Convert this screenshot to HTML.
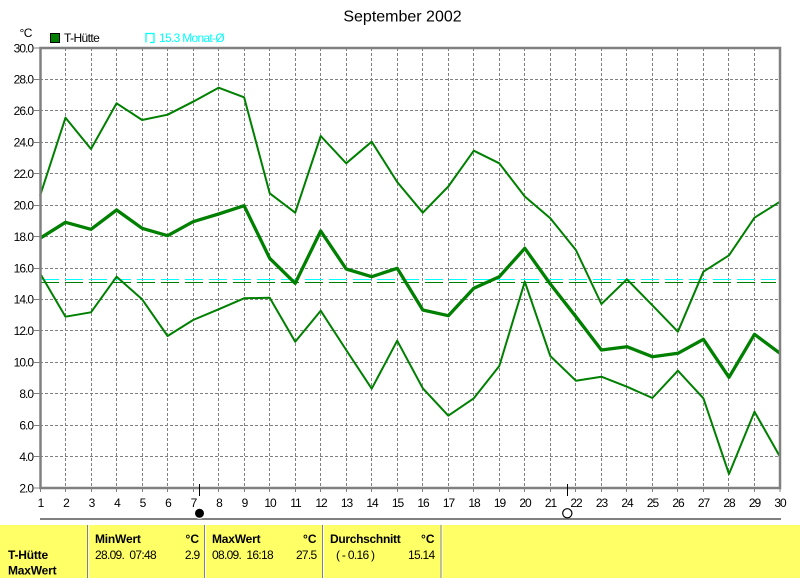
<!DOCTYPE html>
<html>
<head>
<meta charset="utf-8">
<style>
  html,body{margin:0;padding:0;background:#fff;}
  svg{display:block;}
  text{font-family:"Liberation Sans",Arial,sans-serif;}
</style>
</head>
<body>
<svg width="800" height="578" viewBox="0 0 800 578" xmlns="http://www.w3.org/2000/svg">
  <rect x="0" y="0" width="800" height="578" fill="#fff"/>

  <!-- Title -->
  <text x="402.5" y="21.5" font-size="16" text-anchor="middle" fill="#000">September 2002</text>

  <!-- unit -->
  <text x="19.5" y="37" font-size="12" fill="#000" letter-spacing="-0.5">°C</text>

  <!-- Legend -->
  <rect x="50.5" y="33.5" width="9" height="9" fill="#008000" stroke="#000" stroke-width="1"/>
  <text x="64" y="42" font-size="12" fill="#000" letter-spacing="-0.6">T-Hütte</text>
  <path d="M146,42.5 V33.5 H154 V42.5 H150" fill="none" stroke="#00FFFF" stroke-width="1.3"/>
  <text x="159" y="42" font-size="12" fill="#00FFFF" letter-spacing="-0.7">15.3 Monat-Ø</text>

  <!-- vertical dashed grid -->
  <path d="M65.5,48V488 M91.5,48V488 M116.5,48V488 M142.5,48V488 M167.5,48V488 M193.5,48V488 M218.5,48V488 M244.5,48V488 M269.5,48V488 M295.5,48V488 M320.5,48V488 M346.5,48V488 M371.5,48V488 M397.5,48V488 M422.5,48V488 M448.5,48V488 M473.5,48V488 M499.5,48V488 M524.5,48V488 M550.5,48V488 M575.5,48V488 M601.5,48V488 M626.5,48V488 M652.5,48V488 M677.5,48V488 M703.5,48V488 M728.5,48V488 M754.5,48V488"
        stroke="#808080" stroke-width="1" stroke-dasharray="3,2" fill="none"/>
  <!-- horizontal dashed grid -->
  <path d="M40,79.5H780 M40,110.5H780 M40,142.5H780 M40,173.5H780 M40,205.5H780 M40,236.5H780 M40,268.5H780 M40,299.5H780 M40,330.5H780 M40,362.5H780 M40,393.5H780 M40,425.5H780 M40,456.5H780"
        stroke="#808080" stroke-width="1" stroke-dasharray="3,2" fill="none"/>

  <!-- ticks -->
  <path d="M34,48H40 M34,79.5H40 M34,110.5H40 M34,142.5H40 M34,173.5H40 M34,205.5H40 M34,236.5H40 M34,268.5H40 M34,299.5H40 M34,330.5H40 M34,362.5H40 M34,393.5H40 M34,425.5H40 M34,456.5H40 M34,488H40"
        stroke="#808080" stroke-width="1" fill="none"/>
  <path d="M40.5,488V492 M65.5,488V492 M91.5,488V492 M116.5,488V492 M142.5,488V492 M167.5,488V492 M193.5,488V492 M218.5,488V492 M244.5,488V492 M269.5,488V492 M295.5,488V492 M320.5,488V492 M346.5,488V492 M371.5,488V492 M397.5,488V492 M422.5,488V492 M448.5,488V492 M473.5,488V492 M499.5,488V492 M524.5,488V492 M550.5,488V492 M575.5,488V492 M601.5,488V492 M626.5,488V492 M652.5,488V492 M677.5,488V492 M703.5,488V492 M728.5,488V492 M754.5,488V492 M780,488V492"
        stroke="#808080" stroke-width="1" fill="none"/>

  <!-- average dashed lines -->
  <path d="M41,279.5H776" stroke="#00FFFF" stroke-width="1" stroke-dasharray="18,6" fill="none"/>
  <path d="M41,282.5H776" stroke="#008000" stroke-width="1" stroke-dasharray="18,6" fill="none"/>

  <!-- Max series -->
  <polyline fill="none" stroke="#008000" stroke-width="2" stroke-linejoin="round"
    points="40,196 65.5,117.7 91,149 116.6,103.3 142.1,120 167.6,114.7 193.1,101.7 218.6,87.7 244.1,97.3 269.7,193.3 295.2,212.7 320.7,136 346.2,163.3 371.7,141.7 397.2,182 422.8,212.7 448.3,186.5 473.8,150.7 499.3,163.3 524.8,196.5 550.3,218.3 575.9,250 601.4,304 626.9,279.3 652.4,305.3 677.9,331.7 703.4,271.7 729,255.3 754.5,217.7 780,201.7"/>
  <!-- Mean series -->
  <polyline fill="none" stroke="#008000" stroke-width="3.3" stroke-linejoin="round"
    points="40,238.3 65.5,222.3 91,229.3 116.6,210 142.1,228.3 167.6,235.7 193.1,221.7 218.6,214 244.1,205.7 269.7,258.3 295.2,283.3 320.7,231 346.2,269 371.7,276.7 397.2,268.3 422.8,310 448.3,315.7 473.8,288.3 499.3,276.7 524.8,248.3 550.3,284 575.9,316.7 601.4,350 626.9,346.7 652.4,356.7 677.9,353.3 703.4,339.3 729,377.3 754.5,334.3 780,353.3"/>
  <!-- Min series -->
  <polyline fill="none" stroke="#008000" stroke-width="2" stroke-linejoin="round"
    points="40,273.3 65.5,316.7 91,312.3 116.6,276.7 142.1,299.3 167.6,336 193.1,320 218.6,309.3 244.1,298.3 269.7,297.7 295.2,341.7 320.7,310.7 346.2,350 371.7,388.7 397.2,340.7 422.8,388.3 448.3,415.7 473.8,398.3 499.3,366 524.8,281.7 550.3,356 575.9,380.7 601.4,376.7 626.9,386.7 652.4,398 677.9,370.7 703.4,398.3 729,474 754.5,411.7 780,456.7"/>

  <!-- frame -->
  <rect x="40.5" y="48" width="739.5" height="440" fill="none" stroke="#808080" stroke-width="2.5"/>

  <!-- Y labels -->
  <g font-size="12" fill="#000" text-anchor="end" letter-spacing="-1">
    <text x="33" y="52.3">30.0</text>
    <text x="33" y="83.7">28.0</text>
    <text x="33" y="115.2">26.0</text>
    <text x="33" y="146.6">24.0</text>
    <text x="33" y="178">22.0</text>
    <text x="33" y="209.4">20.0</text>
    <text x="33" y="240.9">18.0</text>
    <text x="33" y="272.3">16.0</text>
    <text x="33" y="303.7">14.0</text>
    <text x="33" y="335.2">12.0</text>
    <text x="33" y="366.6">10.0</text>
    <text x="33" y="398">8.0</text>
    <text x="33" y="429.4">6.0</text>
    <text x="33" y="460.9">4.0</text>
    <text x="33" y="492.3">2.0</text>
  </g>

  <!-- X labels -->
  <g font-size="12" fill="#000" text-anchor="middle" letter-spacing="-1">
    <text x="40.5" y="507">1</text>
    <text x="66" y="507">2</text>
    <text x="91.5" y="507">3</text>
    <text x="117" y="507">4</text>
    <text x="142.5" y="507">5</text>
    <text x="168" y="507">6</text>
    <text x="193.5" y="507">7</text>
    <text x="219" y="507">8</text>
    <text x="244.5" y="507">9</text>
    <text x="270" y="507">10</text>
    <text x="295.5" y="507">11</text>
    <text x="321" y="507">12</text>
    <text x="346.5" y="507">13</text>
    <text x="372" y="507">14</text>
    <text x="397.5" y="507">15</text>
    <text x="423" y="507">16</text>
    <text x="448.5" y="507">17</text>
    <text x="474" y="507">18</text>
    <text x="499.5" y="507">19</text>
    <text x="525" y="507">20</text>
    <text x="550.5" y="507">21</text>
    <text x="576" y="507">22</text>
    <text x="601.5" y="507">23</text>
    <text x="627" y="507">24</text>
    <text x="652.5" y="507">25</text>
    <text x="678" y="507">26</text>
    <text x="703.5" y="507">27</text>
    <text x="729" y="507">28</text>
    <text x="754.5" y="507">29</text>
    <text x="780" y="507">30</text>
  </g>

  <!-- moon markers -->
  <path d="M199.5,484V496 M567.5,484V496" stroke="#000" stroke-width="1"/>
  <line x1="40" y1="519" x2="781" y2="519" stroke="#808080" stroke-width="2"/>
  <circle cx="199.5" cy="513.3" r="5.5" fill="#fff"/>
  <circle cx="199.5" cy="513.3" r="4.5" fill="#000"/>
  <circle cx="567.3" cy="513.3" r="4.6" fill="#fff" stroke="#000" stroke-width="1.2"/>

  <!-- yellow table -->
  <rect x="0" y="525" width="800" height="53" fill="#FFFF66"/>
  <g stroke-width="1">
    <line x1="87.5" y1="525" x2="87.5" y2="578" stroke="#808080"/>
    <line x1="88.5" y1="525" x2="88.5" y2="578" stroke="#fff"/>
    <line x1="204.5" y1="525" x2="204.5" y2="578" stroke="#808080"/>
    <line x1="205.5" y1="525" x2="205.5" y2="578" stroke="#fff"/>
    <line x1="322.5" y1="525" x2="322.5" y2="578" stroke="#808080"/>
    <line x1="323.5" y1="525" x2="323.5" y2="578" stroke="#fff"/>
    <line x1="441" y1="525" x2="441" y2="578" stroke="#808080"/>
    <line x1="442" y1="525" x2="442" y2="578" stroke="#fff"/>
  </g>

  <g font-size="12" fill="#000">
    <text x="8" y="559" font-weight="bold" letter-spacing="-0.2">T-Hütte</text>
    <text x="8" y="574.5" font-weight="bold" letter-spacing="-0.2">MaxWert</text>

    <text x="95" y="543" font-weight="bold" letter-spacing="-0.2">MinWert</text>
    <text x="199" y="543" font-weight="bold" text-anchor="end">°C</text>
    <text x="95" y="559" letter-spacing="-0.7" style="white-space:pre">28.09.  07:48</text>
    <text x="199.5" y="559" text-anchor="end" letter-spacing="-0.7">2.9</text>

    <text x="212" y="543" font-weight="bold" letter-spacing="-0.2">MaxWert</text>
    <text x="316.5" y="543" font-weight="bold" text-anchor="end">°C</text>
    <text x="212" y="559" letter-spacing="-0.7" style="white-space:pre">08.09.  16:18</text>
    <text x="316.5" y="559" text-anchor="end" letter-spacing="-0.7">27.5</text>

    <text x="330" y="543" font-weight="bold" letter-spacing="-0.3">Durchschnitt</text>
    <text x="434.5" y="543" font-weight="bold" text-anchor="end">°C</text>
    <text x="336" y="559" letter-spacing="-0.7" style="white-space:pre">( - 0.16 )</text>
    <text x="434.5" y="559" text-anchor="end" letter-spacing="-0.7">15.14</text>
  </g>
</svg>
</body>
</html>
